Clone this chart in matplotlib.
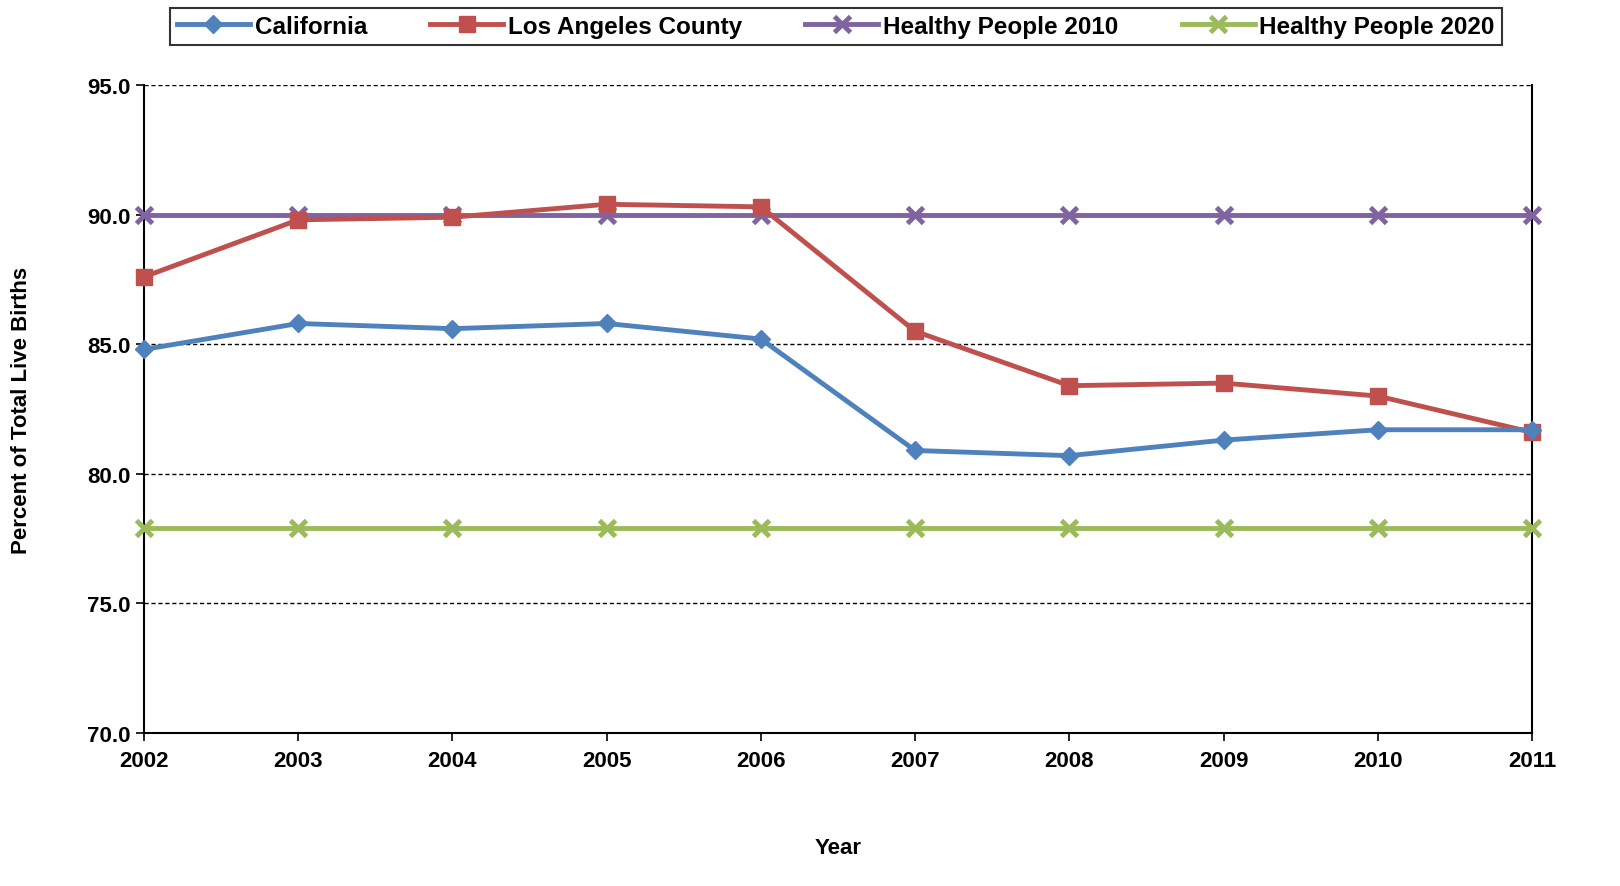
import numpy as np
import matplotlib
matplotlib.use("Agg")
import matplotlib.pyplot as plt

years = [2002, 2003, 2004, 2005, 2006, 2007, 2008, 2009, 2010, 2011]
california = [84.8, 85.8, 85.6, 85.8, 85.2, 80.9, 80.7, 81.3, 81.7, 81.7]
la_county = [87.6, 89.8, 89.9, 90.4, 90.3, 85.5, 83.4, 83.5, 83.0, 81.6]
hp2010 = [90.0] * 10
hp2020 = [77.9] * 10

plt.rcParams['font.family'] = ['Liberation Sans', 'DejaVu Sans']
plt.rcParams['font.weight'] = 'bold'

fig = plt.figure(figsize=(16.2, 8.87), dpi=100)
ax = fig.add_axes([0.0889, 0.1725, 0.8568, 0.7305])

ax.plot(years, california, color='#4F81BD', lw=3.5, marker='D', ms=9, label='California', clip_on=False, zorder=5)
ax.plot(years, la_county, color='#C0504D', lw=3.5, marker='s', ms=11, label='Los Angeles County', clip_on=False, zorder=4)
ax.plot(years, hp2010, color='#8064A2', lw=3.5, marker='x', ms=12, mew=3.5, label='Healthy People 2010', clip_on=False, zorder=3)
ax.plot(years, hp2020, color='#9BBB59', lw=3.5, marker='x', ms=12, mew=3.5, label='Healthy People 2020', clip_on=False, zorder=3)

ax.set_xlim(2002, 2011)
ax.set_ylim(70, 95)
ax.set_xticks(years)
ax.set_yticks(np.arange(70, 96, 5))
ax.set_yticklabels([f"{v:.1f}" for v in np.arange(70, 96, 5)])
ax.tick_params(labelsize=16, length=6, width=1.2, direction='out')
ax.tick_params(axis='x', pad=6)
ax.yaxis.grid(True, linestyle=(0, (3, 2)), color='black', lw=1)
ax.set_axisbelow(True)
ax.spines['top'].set_visible(False)
for s in ['left', 'bottom', 'right']:
    ax.spines[s].set_linewidth(1.5)

ax.set_xlabel('Year', fontsize=16, fontweight='bold', labelpad=48)
ax.set_ylabel('Percent of Total Live Births', fontsize=16, fontweight='bold', labelpad=40)

leg = fig.legend(loc='upper center', bbox_to_anchor=(0.516, 1.004), ncol=4, fontsize=17.5,
                 frameon=True, fancybox=False, edgecolor='black', handlelength=3,
                 columnspacing=2.6, borderpad=0.3, handletextpad=0.2)
leg.get_frame().set_linewidth(1.5)

fig.savefig('out.png', dpi=100)
